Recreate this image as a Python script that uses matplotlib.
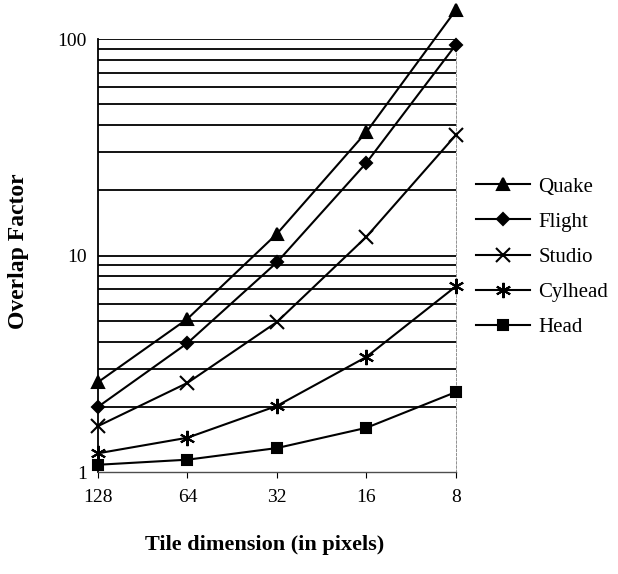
import numpy as np
import matplotlib.pyplot as plt

plt.rcParams['font.family'] = ['Liberation Serif', 'DejaVu Serif']

tiles = ['128', '64', '32', '16', '8']
quake = [2.6, 5.1, 12.6, 37.2, 136]
flight = [2.0, 3.94, 9.3, 26.8, 94]
studio = [1.63, 2.58, 4.93, 12.2, 36.0]
cylhead = [1.22, 1.44, 2.02, 3.4, 7.2]
head = [1.08, 1.14, 1.29, 1.6, 2.34]

series = [('Quake', quake, '^', 8), ('Flight', flight, 'D', 6),
          ('Studio', studio, 'x', 10), ('Cylhead', cylhead, (6, 2, 0), 11),
          ('Head', head, 's', 7)]

fig = plt.figure(figsize=(6.18, 5.74), dpi=100)
ax = fig.add_axes([0.1586, 0.1777, 0.579, 0.7543])

x = np.arange(len(tiles))
for name, vals, mk, ms in series:
    ax.plot(x, vals, color='k', lw=1.5, marker=mk, ms=ms, mew=1.5,
            label=name, clip_on=False, zorder=3)

ax.set_yscale('log')
ax.set_ylim(1, 100)
ax.set_xlim(0, len(tiles) - 1)
ax.set_xticks(x)
ax.set_xticklabels(tiles)
ax.set_yticks([1, 10, 100])
ax.set_yticklabels(['1', '10', '100'])
ax.yaxis.set_minor_formatter(plt.NullFormatter())
ax.tick_params(axis='y', which='both', length=0, labelsize=14, pad=8)
ax.tick_params(axis='x', length=4, direction='out', labelsize=14, pad=8)

grid = [v * d for d in (1, 10) for v in range(2, 10)] + [10, 100]
for g in grid:
    ax.axhline(g, color='k', lw=1.3, zorder=1)

ax.spines['top'].set_visible(False)
ax.spines['right'].set_linestyle((0, (3, 2)))
ax.spines['right'].set_linewidth(0.6)
ax.spines['right'].set_color('0.5')
ax.spines['left'].set_linewidth(1.3)
ax.spines['bottom'].set_linewidth(1.0)
ax.spines['bottom'].set_color('0.3')

fig.text(0.03, 0.562, 'Overlap Factor', fontsize=17, fontweight='bold',
         rotation=90, ha='center', va='center')
fig.text(0.429, 0.05, 'Tile dimension (in pixels)', fontsize=16,
         fontweight='bold', ha='center', va='center')

fig.legend(loc='center left', bbox_to_anchor=(0.74, 0.552), frameon=False,
           fontsize=15, handlelength=2.6, labelspacing=0.75, handletextpad=0.4)

fig.savefig('out.png', dpi=100)
